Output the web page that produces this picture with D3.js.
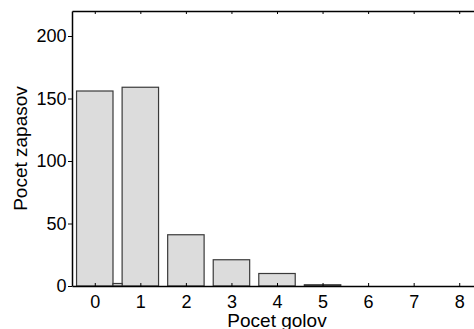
<!DOCTYPE html>
<html>
<head>
<meta charset="utf-8">
<script src="https://cdn.jsdelivr.net/npm/d3@7"></script>
<style>
  html, body { margin: 0; padding: 0; background: #fff; }
  svg { display: block; }
  text { font-family: "Liberation Sans", Arial, Helvetica, sans-serif; fill: #000; }
</style>
</head>
<body>
<svg id="chart" width="474" height="329"></svg>
<script>
// Number of goals per match and how many matches ended with that count
const goals = [0, 1, 2, 3, 4, 5, 6, 7, 8];
const matches = [156, 159, 41, 21, 10, 1, 0, 0, 0];
// Narrow bar sitting between 0 and 1 goals
const extraX = [0.5];
const extraVal = [2];
const extraWidth = 0.2;

const yTicks = [0, 50, 100, 150, 200];
const xLabel = "Pocet golov";
const yLabel = "Pocet zapasov";

const svg = d3.select("#chart");
const W = 474, H = 329;
const m = { left: 72, top: 11, bottom: 43 };
const plotRight = 482; // axis box continues past the window edge

const x = d3.scaleLinear().domain([-0.5, 8.5]).range([m.left, plotRight]);
const y = d3.scaleLinear().domain([0, 220]).range([H - m.bottom, m.top]);

const barW = 0.8;
const g = svg.append("g");

g.selectAll("rect.bar")
  .data(goals.map((d, i) => ({ k: d, v: matches[i] })).filter(d => d.v > 0))
  .join("rect")
  .attr("class", "bar")
  .attr("x", d => x(d.k - barW / 2))
  .attr("width", d => x(d.k + barW / 2) - x(d.k - barW / 2))
  .attr("y", d => y(d.v))
  .attr("height", d => y(0) - y(d.v))
  .attr("fill", "#dcdcdc")
  .attr("stroke", "#3a3a3a")
  .attr("stroke-width", 1.2);

g.selectAll("rect.extra")
  .data(extraX.map((d, i) => ({ k: d, v: extraVal[i] })))
  .join("rect")
  .attr("class", "extra")
  .attr("x", d => x(d.k - extraWidth / 2))
  .attr("width", d => x(d.k + extraWidth / 2) - x(d.k - extraWidth / 2))
  .attr("y", d => y(d.v))
  .attr("height", d => y(0) - y(d.v))
  .attr("fill", "#dcdcdc")
  .attr("stroke", "#3a3a3a")
  .attr("stroke-width", 1.2);

// Bottom axis: ticks point inward
const xAxis = d3.axisBottom(x).tickValues(goals).tickSize(-3).tickPadding(9).tickSizeOuter(0);
const gx = svg.append("g").attr("transform", `translate(0,${y(0)})`).call(xAxis);
gx.select(".domain").attr("stroke", "#000").attr("stroke-width", 1.5);
gx.selectAll(".tick line").attr("stroke", "#000");
gx.selectAll(".tick text").attr("font-size", 18).attr("dy", "0.71em");

// Top axis line with inward ticks, no labels
const xTop = d3.axisTop(x).tickValues(goals).tickSize(-3).tickFormat("").tickSizeOuter(0);
const gt = svg.append("g").attr("transform", `translate(0,${m.top})`).call(xTop);
gt.select(".domain").attr("stroke", "#000").attr("stroke-width", 1.5);
gt.selectAll(".tick line").attr("stroke", "#000");

// Left axis
const yAxis = d3.axisLeft(y).tickValues(yTicks).tickSize(4).tickPadding(1.5).tickSizeOuter(0);
const gy = svg.append("g").attr("transform", `translate(${m.left},0)`).call(yAxis);
gy.select(".domain").attr("stroke", "#000").attr("stroke-width", 1.5);
gy.selectAll(".tick line").attr("stroke", "#000");
gy.selectAll(".tick text").attr("font-size", 18);

// Axis titles
svg.append("text")
  .attr("x", x(4))
  .attr("y", 327)
  .attr("text-anchor", "middle")
  .attr("font-size", 19)
  .text(xLabel);

svg.append("text")
  .attr("transform", `translate(26.5,${y(110)}) rotate(-90)`)
  .attr("text-anchor", "middle")
  .attr("font-size", 19)
  .text(yLabel);
</script>
</body>
</html>
